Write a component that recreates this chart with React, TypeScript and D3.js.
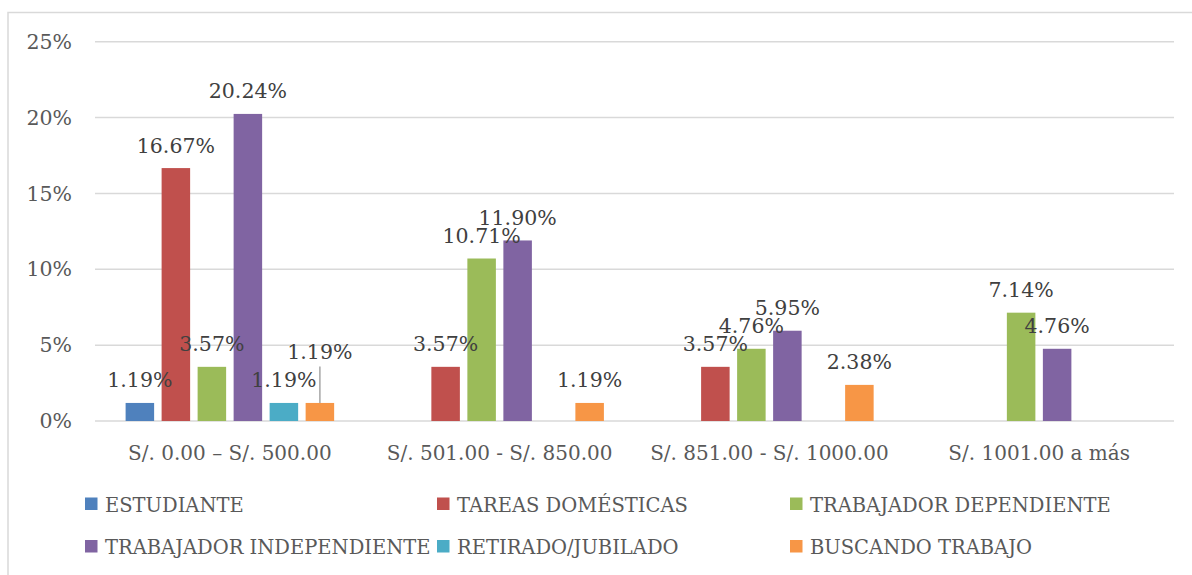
import React from 'react';
import * as d3 from 'd3';

// rangos de ingreso (eje x)
const categories = ['S/. 0.00 – S/. 500.00', 'S/. 501.00 - S/. 850.00', 'S/. 851.00 - S/. 1000.00', 'S/. 1001.00 a más'];
const seriesNames = ['ESTUDIANTE', 'TAREAS DOMÉSTICAS', 'TRABAJADOR DEPENDIENTE', 'TRABAJADOR INDEPENDIENTE', 'RETIRADO/JUBILADO', 'BUSCANDO TRABAJO'];
const seriesColors = ['#4F81BD', '#C0504D', '#9BBB59', '#8064A2', '#4BACC6', '#F79646'];

// porcentaje por rango, una lista por serie
const estudiante = [1.19, 0, 0, 0];
const tareasDomesticas = [16.67, 3.57, 3.57, 0];
const trabajadorDependiente = [3.57, 10.71, 4.76, 7.14];
const trabajadorIndependiente = [20.24, 11.9, 5.95, 4.76];
const retiradoJubilado = [1.19, 0, 0, 0];
const buscandoTrabajo = [1.19, 1.19, 2.38, 0];

const yTicks = [0, 5, 10, 15, 20, 25];

const W = 1192;
const H = 575;
const FONT = '"DejaVu Serif", serif';

export default function App() {
  const values = [estudiante, tareasDomesticas, trabajadorDependiente, trabajadorIndependiente, retiradoJubilado, buscandoTrabajo];

  const x0 = d3.scaleBand().domain(categories).range([95, 1174]).paddingInner(0).paddingOuter(0);
  const x1 = d3.scaleBand().domain(seriesNames).range([0, x0.bandwidth()]).paddingInner(0.208).paddingOuter(0.85);
  const y = d3.scaleLinear().domain([0, 25]).range([421, 41.7]);

  // etiqueta movida por Excel (con línea guía)
  const lifted = (s: number, c: number) => (s === 5 && c === 0 ? 28 : 0);

  const legendCols = [85, 437, 790];
  const legendRows = [504.5, 547];

  return (
    <svg width={W} height={H} style={{ position: 'absolute', left: 0, top: 0, background: '#fff' }} fontFamily={FONT}>
      <rect x={8} y={12.5} width={W + 20} height={H + 20} fill="#fff" stroke="#d9d9d9" strokeWidth={1.5} />

      {yTicks.map(t => (
        <g key={t}>
          <line x1={95} x2={1174} y1={y(t)} y2={y(t)} stroke="#d9d9d9" strokeWidth={1.5} />
          <text x={72} y={y(t)} dy="0.35em" textAnchor="end" fontSize={20.5} fill="#595959">{t}%</text>
        </g>
      ))}

      {categories.map((cat, c) => (
        <g key={cat} transform={`translate(${x0(cat)},0)`}>
          {seriesNames.map((s, i) => {
            const v = values[i][c];
            if (!v) return null;
            const bx = x1(s)!;
            return (
              <rect key={s} x={bx} y={y(v)} width={x1.bandwidth()} height={y(0) - y(v)} fill={seriesColors[i]} />
            );
          })}
          <text x={x0.bandwidth() / 2} y={460} textAnchor="middle" fontSize={20} fill="#595959">{cat}</text>
        </g>
      ))}

      {categories.map((cat, c) => (
        <g key={cat + '-lbl'} transform={`translate(${x0(cat)},0)`}>
          {seriesNames.map((s, i) => {
            const v = values[i][c];
            if (!v) return null;
            const cx = x1(s)! + x1.bandwidth() / 2;
            const lift = lifted(i, c);
            const ly = y(v) - 15.5 - lift;
            return (
              <g key={s}>
                {lift > 0 && <line x1={cx} x2={cx} y1={ly + 7} y2={y(v)} stroke="#a6a6a6" strokeWidth={1.5} />}
                <text x={cx} y={ly} textAnchor="middle" fontSize={20.5} fill="#404040">{d3.format('.2f')(v)}%</text>
              </g>
            );
          })}
        </g>
      ))}

      {seriesNames.map((s, i) => {
        const lx = legendCols[i % 3];
        const ly = legendRows[Math.floor(i / 3)];
        return (
          <g key={s + '-leg'}>
            <rect x={lx} y={ly - 7} width={12.5} height={12.5} fill={seriesColors[i]} />
            <text x={lx + 20} y={ly} dy="0.36em" fontSize={19.5} fill="#595959">{s}</text>
          </g>
        );
      })}
    </svg>
  );
}
